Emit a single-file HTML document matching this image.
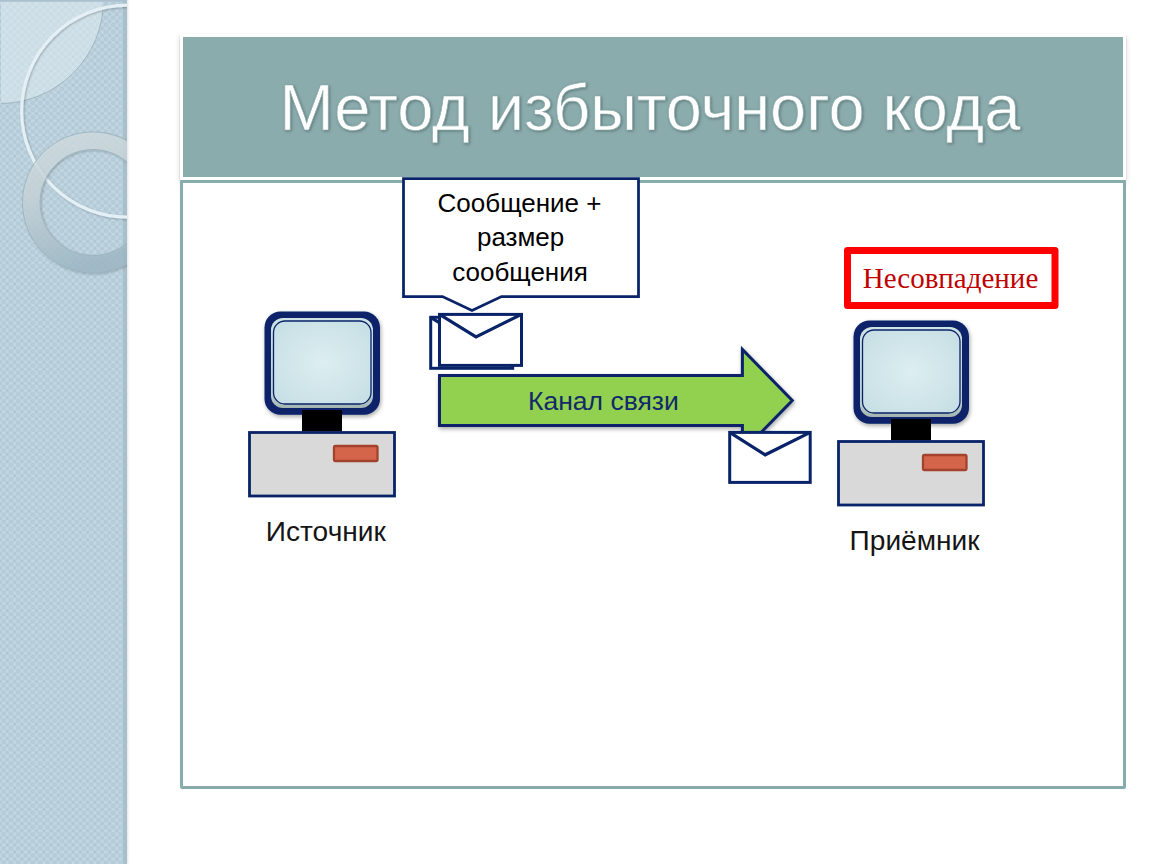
<!DOCTYPE html>
<html>
<head>
<meta charset="utf-8">
<style>
html,body{margin:0;padding:0;width:1150px;height:864px;overflow:hidden;background:#fff;}
body{position:relative;font-family:"Liberation Sans",sans-serif;}
#side{position:absolute;left:0;top:0;width:127.3px;box-shadow:1px 0 2px rgba(0,0,0,0.12);height:864px;background-color:#BAD0DC;overflow:hidden;}
#title{position:absolute;left:180px;top:34px;width:940px;height:140px;border:3px solid #fff;background:#8BACAD;box-shadow:0 1px 1px rgba(0,0,0,0.28),0 3px 6px rgba(0,0,0,0.15);}
#content{position:absolute;left:180px;top:180.4px;width:940px;height:602.6px;border:3px solid #88ABAB;border-radius:2px;background:#fff;}
svg{position:absolute;left:0;top:0;}
</style>
</head>
<body>
<div id="side">
<svg width="127" height="864" viewBox="0 0 127 864">
<defs>
  <pattern id="tex" x="0" y="0" width="7.3" height="7.1" patternUnits="userSpaceOnUse">
    <rect width="7.3" height="7.1" fill="#BBD1DD"/>
    <circle cx="0" cy="0" r="1.5" fill="#AFC7D3"/>
    <circle cx="7.3" cy="0" r="1.5" fill="#AFC7D3"/>
    <circle cx="0" cy="7.1" r="1.5" fill="#AFC7D3"/>
    <circle cx="7.3" cy="7.1" r="1.5" fill="#AFC7D3"/>
    <ellipse cx="3.65" cy="0" rx="1.8" ry="1.2" fill="#C3D8E3"/>
    <ellipse cx="3.65" cy="7.1" rx="1.8" ry="1.2" fill="#C3D8E3"/>
    <ellipse cx="0" cy="3.55" rx="1.2" ry="1.8" fill="#C3D8E3"/>
    <ellipse cx="7.3" cy="3.55" rx="1.2" ry="1.8" fill="#C3D8E3"/>
    <circle cx="3.65" cy="3.55" r="1.4" fill="none" stroke="#B0C8D4" stroke-width="0.9"/>
  </pattern>
  <linearGradient id="ringg" x1="0" y1="0" x2="0.25" y2="1">
    <stop offset="0" stop-color="#D6E0E3"/>
    <stop offset="0.45" stop-color="#C9D6DB"/>
    <stop offset="1" stop-color="#9EB9C6"/>
  </linearGradient>
  <linearGradient id="edge" x1="0" y1="0" x2="1" y2="0">
    <stop offset="0" stop-color="#C8DCE6" stop-opacity="0"/>
    <stop offset="0.3" stop-color="#C8DCE6" stop-opacity="0.6"/>
    <stop offset="0.45" stop-color="#A9C1CD" stop-opacity="0.8"/>
    <stop offset="1" stop-color="#A0B8C4" stop-opacity="1"/>
  </linearGradient>
  <filter id="wsh" x="-10%" y="-10%" width="120%" height="120%">
    <feGaussianBlur in="SourceAlpha" stdDeviation="1.2"/>
    <feOffset dx="0.5" dy="1"/>
    <feComponentTransfer><feFuncA type="linear" slope="0.25"/></feComponentTransfer>
    <feMerge><feMergeNode/><feMergeNode in="SourceGraphic"/></feMerge>
  </filter>
  <clipPath id="sq"><rect x="1" y="2" width="102" height="102"/></clipPath>
</defs>
<rect width="127" height="864" fill="url(#tex)"/>
<rect x="121.6" y="0" width="1.2" height="864" fill="#B9D5DB" opacity="0.9"/><rect x="122.8" y="0" width="4.5" height="864" fill="#A3B8C6" opacity="0.7"/>
<rect x="0" y="0" width="127" height="1.5" fill="#A9C1CD"/>
<g clip-path="url(#sq)">
  <circle cx="0" cy="0" r="103.5" fill="#E2EDF1" fill-opacity="0.5" stroke="#97AEB8" stroke-width="0.8"/>
</g>
<circle cx="127.6" cy="111.1" r="106" fill="none" stroke="#E4F0F5" stroke-width="3.2" filter="url(#wsh)"/>
<path fill-rule="evenodd" d="M93,132 a70.5,70.5 0 1,0 0.01,0 Z M93,149.5 a53,53 0 1,0 0.01,0 Z" fill="url(#ringg)" fill-opacity="0.78" stroke="#98B0BB" stroke-width="0.8" filter="url(#wsh)"/>
</svg>
</div>
<div id="title"></div>
<div id="content"></div>
<svg width="1150" height="864" viewBox="0 0 1150 864">
<defs>
  <radialGradient id="scr" cx="0.5" cy="0.5" r="0.6">
    <stop offset="0" stop-color="#DDEEF2"/>
    <stop offset="1" stop-color="#C8E0E5"/>
  </radialGradient>
  <linearGradient id="bez" x1="0" y1="0" x2="0" y2="1">
    <stop offset="0" stop-color="#CFE2E5"/>
    <stop offset="0.85" stop-color="#BCCFD0"/>
    <stop offset="1" stop-color="#A3B4B0"/>
  </linearGradient>
  <filter id="sh" x="-20%" y="-20%" width="140%" height="140%">
    <feGaussianBlur in="SourceAlpha" stdDeviation="2"/>
    <feOffset dx="1" dy="2"/>
    <feComponentTransfer><feFuncA type="linear" slope="0.35"/></feComponentTransfer>
    <feMerge><feMergeNode/><feMergeNode in="SourceGraphic"/></feMerge>
  </filter>
  <g id="comp">
    <rect x="264.5" y="311.5" width="115.5" height="103.3" rx="16" fill="#082368" filter="url(#sh)"/>
    <rect x="271" y="318" width="102" height="90" rx="12" fill="url(#bez)"/>
    <rect x="273.5" y="321" width="97.5" height="83" rx="11.5" fill="url(#scr)" stroke="#082368" stroke-width="1.3"/>
    <rect x="302" y="410" width="40" height="21.5" fill="#000"/>
    <rect x="249.5" y="432.5" width="145" height="63.5" fill="#D9D9D9" stroke="#082368" stroke-width="2.8"/>
    <rect x="334" y="446" width="43.5" height="15" rx="1.5" fill="#D5654A" stroke="#A3432D" stroke-width="2.3"/>
  </g>
  <g id="env">
    <rect x="0" y="0" width="82" height="51" fill="#fff" stroke="#082368" stroke-width="3"/>
    <polyline points="0,0 36.5,22.5 82,0" fill="none" stroke="#082368" stroke-width="3.2" stroke-linejoin="miter"/>
  </g>
</defs>
<use href="#comp"/>
<use href="#comp" transform="translate(589,9)"/>
<!-- title text -->
<text x="649.9" y="129.7" text-anchor="middle" font-family="Liberation Sans" font-size="64.9" fill="#fff" stroke="#8BACAD" stroke-width="0.7" style="filter:drop-shadow(1.5px 1.5px 1.5px rgba(0,0,0,0.3))">Метод избыточного кода</text>
<!-- callout -->
<path d="M403.5,178.5 H638.5 V296.5 H501.5 L472,310.5 L442.5,296.5 H403.5 Z" fill="#fff" stroke="#082368" stroke-width="2.75"/>
<g font-family="Liberation Sans" font-size="26" fill="#000" text-anchor="middle">
  <text x="519.5" y="211.8">Сообщение +</text>
  <text x="520.6" y="245.6">размер</text>
  <text x="520" y="281.3">сообщения</text>
</g>
<!-- envelopes -->
<use href="#env" transform="translate(430.7,317.3)"/>
<use href="#env" transform="translate(439.5,314.4)"/>
<!-- arrow -->
<polygon points="439.5,375.5 742.4,375.5 742.4,349.5 792.3,400.5 742.4,451.5 742.4,425.5 439.5,425.5" fill="#92D050" stroke="#082368" stroke-width="3" filter="url(#sh)"/>
<text x="603.4" y="409.6" text-anchor="middle" font-family="Liberation Sans" font-size="26.5" fill="#102A6B">Канал связи</text>
<g transform="translate(729.7,432.4)"><rect x="0" y="0" width="80.5" height="50" fill="#fff" stroke="#082368" stroke-width="3"/><polyline points="0,0 35.5,22.4 80.5,0" fill="none" stroke="#082368" stroke-width="3.2"/></g>
<!-- red box -->
<rect x="847.5" y="250.5" width="207.5" height="55" fill="#fff" stroke="#FF0000" stroke-width="7" stroke-linejoin="round"/>
<text x="950.5" y="288" text-anchor="middle" font-family="Liberation Serif" font-size="29" fill="#C00000">Несовпадение</text>
<!-- labels -->
<g font-family="Liberation Sans" font-size="28.1" fill="#151515" text-anchor="middle">
  <text x="325.8" y="540.7">Источник</text>
  <text x="914.6" y="549.8">Приёмник</text>
</g>
</svg>
</body>
</html>
